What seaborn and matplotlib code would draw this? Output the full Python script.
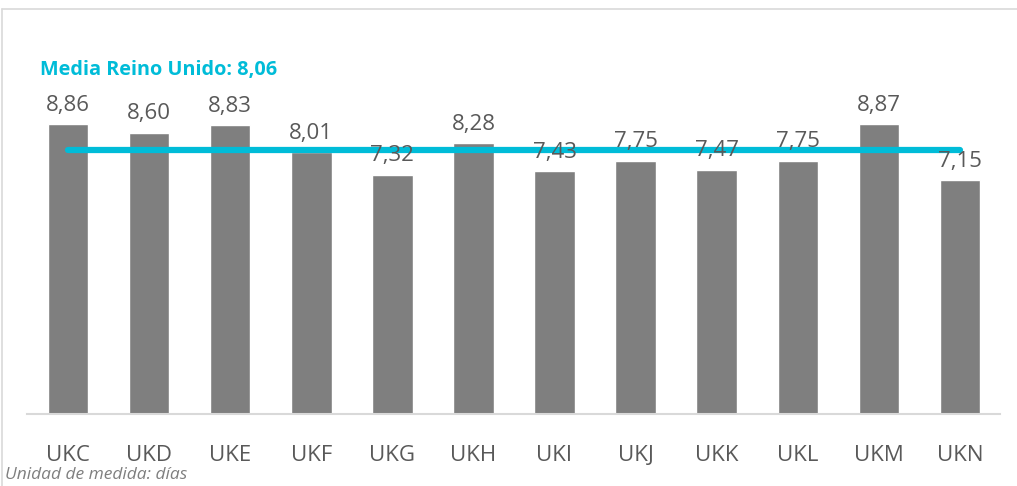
import matplotlib
matplotlib.use("Agg")
import matplotlib.pyplot as plt
import seaborn as sns
import pandas as pd

# Values
regions = ["UKC", "UKD", "UKE", "UKF", "UKG", "UKH", "UKI", "UKJ", "UKK", "UKL", "UKM", "UKN"]
days = [8.86, 8.60, 8.83, 8.01, 7.32, 8.28, 7.43, 7.75, 7.47, 7.75, 8.87, 7.15]
uk_mean = 8.06

sns.set_theme(style="white")
plt.rcParams["font.family"] = ["Open Sans", "DejaVu Sans"]

df = pd.DataFrame({"region": regions, "days": days})

fig = plt.figure(figsize=(10.17, 4.86), dpi=100)
ax = fig.add_axes([27.5 / 1017, 1 - 414 / 486, 973 / 1017, 354 / 486])

sns.barplot(data=df, x="region", y="days", color="#7f7f7f", saturation=1,
            width=0.5, ax=ax)

# UK mean line from first to last bar center
ax.plot([0, len(regions) - 1], [uk_mean, uk_mean], color="#00bcd8", lw=4.5,
        solid_capstyle="round", zorder=3)

# value labels above bars
for i, v in enumerate(days):
    ax.annotate(f"{v:.2f}".replace(".", ","), (i, v), xytext=(0, 6),
                textcoords="offset points", ha="center", va="bottom",
                fontsize=16, color="#595959", zorder=4)

ax.set_xlim(-0.5, len(regions) - 0.5)
ax.set_ylim(0, 354 / 32.7)
ax.set_xlabel("")
ax.set_ylabel("")
ax.set_yticks([])
ax.tick_params(axis="x", length=0, pad=22, labelsize=16, labelcolor="#595959")
for s in ["top", "right", "left"]:
    ax.spines[s].set_visible(False)
ax.spines["bottom"].set_color("#d9d9d9")
ax.spines["bottom"].set_linewidth(1.5)

fig.text(40 / 1017, 1 - 70 / 486, "Media Reino Unido: 8,06", color="#00bcd8",
         fontsize=14.3, fontweight="bold", va="center", ha="left")
fig.text(5 / 1017, 1 - 475 / 486, "Unidad de medida: días", color="#7f7f7f",
         fontsize=12.5, style="italic", va="center", ha="left")

# light frame lines (top and left)
fig.add_artist(plt.Line2D([2 / 1017, 1], [1 - 9 / 486] * 2, color="#d9d9d9", lw=1.2))
fig.add_artist(plt.Line2D([2 / 1017] * 2, [0, 1 - 9 / 486], color="#d9d9d9", lw=1.2))

fig.savefig("out.png", dpi=100)
